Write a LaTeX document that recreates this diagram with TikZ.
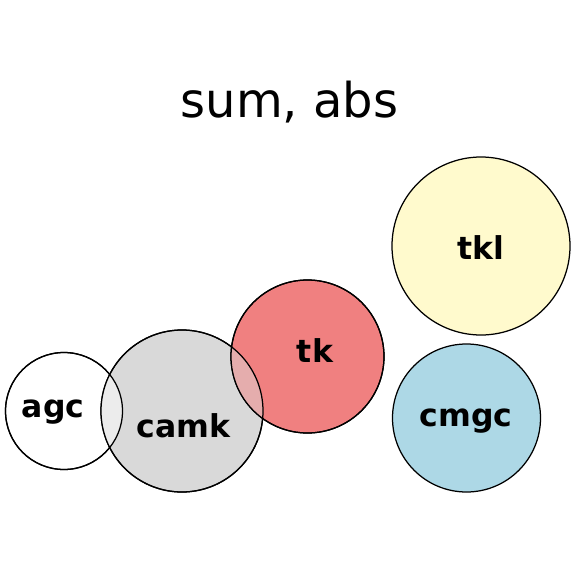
\documentclass[tikz,border=0pt]{standalone}
\usepackage{fontspec}
\setmainfont{DejaVu Sans}
\definecolor{camkc}{HTML}{D9D9D9}
\definecolor{tkc}{HTML}{F08080}
\definecolor{tklc}{HTML}{FFFACD}
\definecolor{cmgcc}{HTML}{ADD8E6}
\definecolor{ovtk}{HTML}{E5ADAD}
\definecolor{ovagc}{HTML}{ECECEC}
\tikzset{
  setc/.style={circle, draw=black, line width=1.25pt, inner sep=0pt},
  lbl/.style={font=\fontsize{31.5}{36}\selectfont\bfseries, inner sep=0pt, anchor=base},
}
\begin{document}
\begin{tikzpicture}[x=1pt,y=-1pt]
\useasboundingbox (0,0) rectangle (576,576);
\node[setc, fill=white, minimum size=117pt] (agc) at (64,411) {};
\node[setc, fill=camkc, minimum size=162pt] (camk) at (182,411) {};
\node[setc, fill=tkc, minimum size=153pt] (tk) at (307.5,356.5) {};
\node[setc, fill=tklc, minimum size=178pt] (tkl) at (481,246) {};
\node[setc, fill=cmgcc, minimum size=148pt] (cmgc) at (466.5,418) {};
\begin{scope}
  \clip (camk.center) circle (81pt);
  \fill[ovtk] (tk.center) circle (76.5pt);
  \fill[ovagc] (agc.center) circle (58.5pt);
\end{scope}
\draw[line width=1.25pt] (agc.center) circle (58.5pt);
\draw[line width=1.25pt] (camk.center) circle (81pt);
\draw[line width=1.25pt] (tk.center) circle (76.5pt);
\node[lbl] (tagc) at (53,417) {agc};
\node[lbl] (tcamk) at (183.5,437) {camk};
\node[lbl] (ttk) at (315,362) {tk};
\node[lbl] (ttkl) at (481,259) {tkl};
\node[lbl] (tcmgc) at (466,426) {cmgc};
\node[font=\fontsize{48}{54}\selectfont, inner sep=0pt, anchor=base] (title) at (289.5,117) {sum, abs};
\end{tikzpicture}
\end{document}
